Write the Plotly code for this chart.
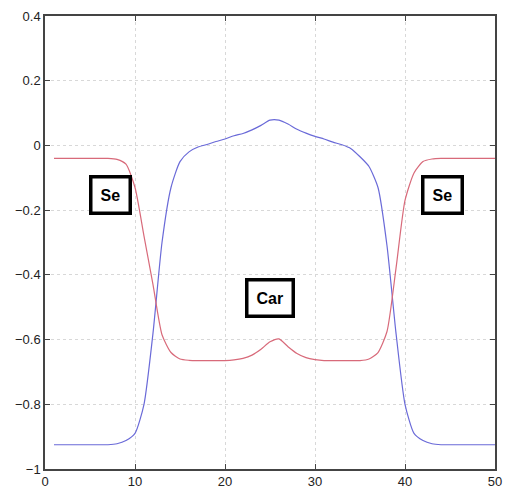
import plotly.graph_objects as go

x = list(range(1, 51))
blue = [-0.925, -0.925, -0.925, -0.925, -0.925, -0.925, -0.925, -0.922, -0.912, -0.89,
        -0.80, -0.58, -0.30, -0.13, -0.05, -0.02, -0.005, 0.003, 0.012, 0.02,
        0.03, 0.037, 0.048, 0.062, 0.078, 0.078, 0.066, 0.05, 0.038, 0.028,
        0.02, 0.01, 0.002, -0.01, -0.035, -0.065, -0.13, -0.31, -0.58, -0.80,
        -0.89, -0.912, -0.922, -0.925, -0.925, -0.925, -0.925, -0.925, -0.925, -0.925]
red = [-0.04, -0.04, -0.04, -0.04, -0.04, -0.04, -0.04, -0.043, -0.058, -0.13,
       -0.28, -0.43, -0.585, -0.64, -0.66, -0.664, -0.665, -0.665, -0.665, -0.665,
       -0.663, -0.658, -0.648, -0.63, -0.607, -0.598, -0.622, -0.643, -0.656, -0.662,
       -0.665, -0.665, -0.665, -0.665, -0.665, -0.66, -0.64, -0.575, -0.38, -0.17,
       -0.085, -0.05, -0.042, -0.04, -0.04, -0.04, -0.04, -0.04, -0.04, -0.04]

labels = ["Se", "Car", "Se"]
label_x = [7.3, 24.95, 44.15]
label_y = [-0.152, -0.471, -0.152]

xticks = [0, 10, 20, 30, 40, 50]
yticks = [-1, -0.8, -0.6, -0.4, -0.2, 0, 0.2, 0.4]
yticktext = ["\u22121", "\u22120.8", "\u22120.6", "\u22120.4", "\u22120.2", "0", "0.2", "0.4"]

fig = go.Figure()
fig.add_trace(go.Scatter(x=x, y=blue, mode="lines", line_shape="spline",
                         line=dict(color="#6a6ad8", width=1.2, smoothing=0.6), showlegend=False))
fig.add_trace(go.Scatter(x=x, y=red, mode="lines", line_shape="spline",
                         line=dict(color="#d86a7a", width=1.2, smoothing=0.6), showlegend=False))

for t, lx, ly in zip(labels, label_x, label_y):
    fig.add_annotation(x=lx, y=ly, text="<b>" + t + "</b>", showarrow=False,
                       font=dict(family="Liberation Sans, Arial", size=16, color="black"),
                       bordercolor="black", borderwidth=3.5, borderpad=8,
                       bgcolor="white")

axis_common = dict(showline=True, linecolor="#444", linewidth=1.5, mirror="ticks",
                   ticks="inside", ticklen=5, tickcolor="#444",
                   showgrid=True, gridcolor="#d8d8d8", griddash="dot", gridwidth=1.2,
                   zeroline=False,
                   tickfont=dict(family="Liberation Sans, Arial", size=13, color="#222"))

fig.update_layout(
    width=511, height=498,
    margin=dict(l=45, r=9, t=14, b=29),
    paper_bgcolor="white", plot_bgcolor="white",
    xaxis=dict(range=[0, 50], tickvals=xticks, **axis_common),
    yaxis=dict(range=[-1, 0.4], tickvals=yticks, ticktext=yticktext, **axis_common),
)

fig.write_html("out.html", config={"displayModeBar": False},
               post_script="document.body.style.margin='0';document.body.style.overflow='hidden';")
